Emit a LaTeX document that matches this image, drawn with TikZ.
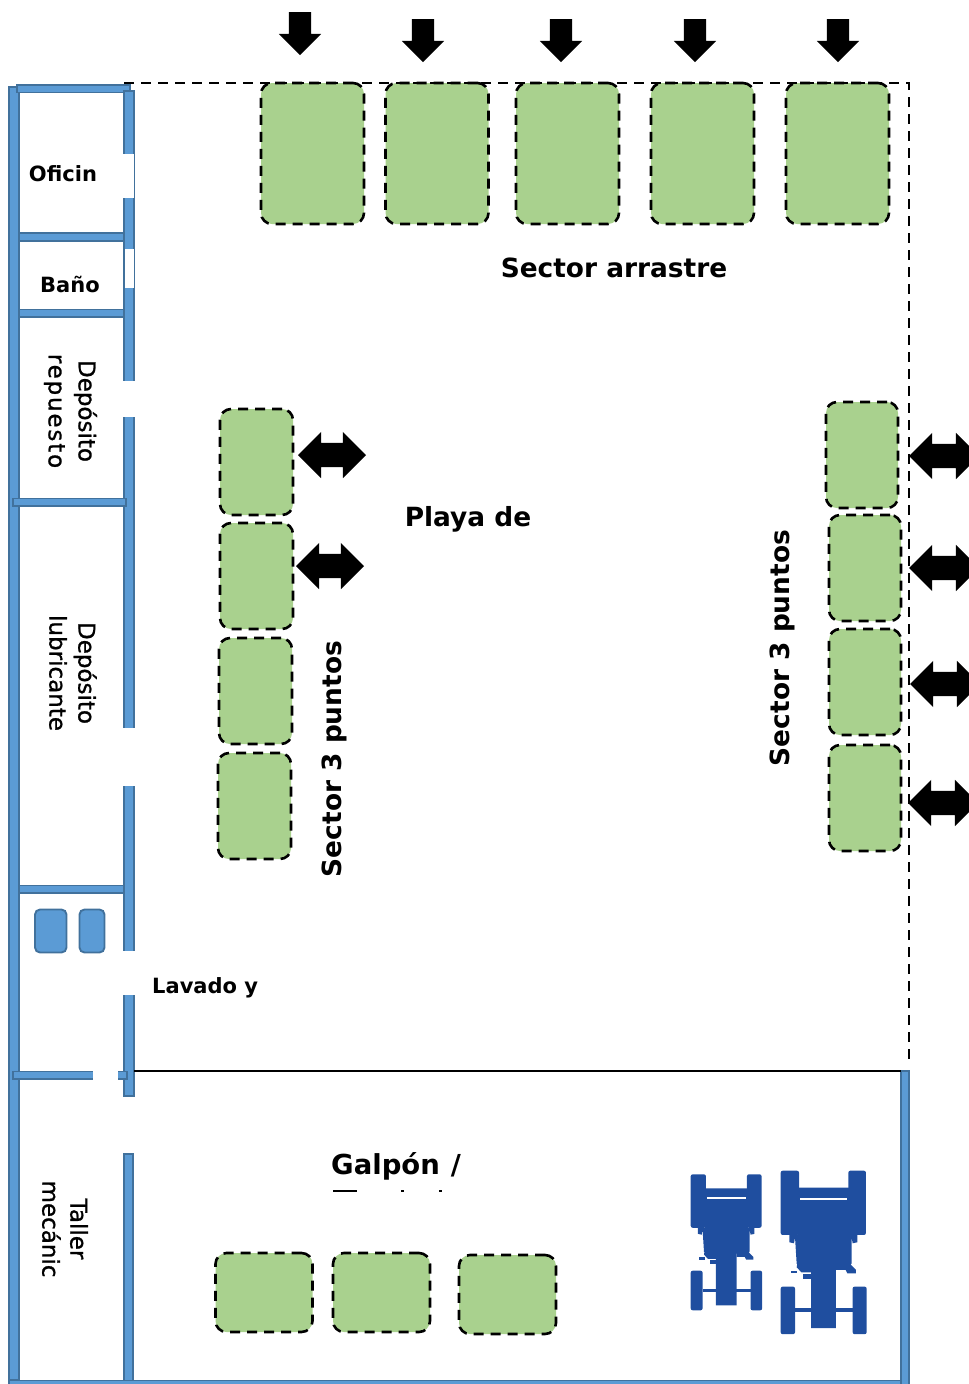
\documentclass[tikz,border=0pt]{standalone}
\usepackage{fontspec}
\setmainfont{DejaVu Sans}
\usetikzlibrary{shapes.arrows}
\definecolor{verde}{HTML}{A9D18E}
\definecolor{pared}{HTML}{5B9BD5}
\definecolor{borde}{HTML}{41719C}
\definecolor{tractor}{HTML}{1F4E9F}
\tikzset{
  lote/.style={draw=black,fill=verde,line width=2.6pt,rounded corners=11pt,inner sep=0pt,dash pattern=on 10pt off 7pt},
  muro/.style={draw=borde,fill=pared,line width=1.9pt},
  hueco/.style={fill=white,draw=none},
  flecha/.style={single arrow,fill=black,rotate=-90,inner xsep=0pt,inner ysep=11pt,minimum height=43pt,minimum width=42pt,single arrow head extend=10pt},
  dflecha/.style={double arrow,fill=black,inner xsep=0pt,inner ysep=12pt,minimum height=70pt,minimum width=46pt,double arrow head extend=11pt},
  rotulo/.style={font=\bfseries\fontsize{#1}{#1}\selectfont,inner sep=0pt,align=center},
  rotulo/.default=21,
  vertical/.style={font=\fontsize{23}{23}\selectfont\addfontfeature{FakeBold=1},inner sep=0pt,align=center,rotate=-90}
}
\begin{document}
\begin{tikzpicture}[x=1pt,y=-1pt]
\clip (0,0) rectangle (969,1384);

% lotes
\foreach \i/\cx in {1/312.5,2/437,3/567.5,4/702.5,5/837.5}
{
\node[lote,minimum width=103pt,minimum height=141pt] (arrastre\i) at (\cx,153.5) {};
}
\foreach \i/\cx/\cy in {1/256.5/462,2/256.5/576,3/255.5/691,4/254.5/806}
{
\node[lote,minimum width=73pt,minimum height=106pt] (izq\i) at (\cx,\cy) {};
}
\foreach \i/\cx/\cy in {1/862/455,2/865/568,3/865/682,4/865/798}
{
\node[lote,minimum width=72pt,minimum height=106pt] (der\i) at (\cx,\cy) {};
}
\foreach \i/\cx/\cy in {1/264/1292.5,2/381.5/1292.5,3/507.5/1294.5}
{
\node[lote,minimum width=97pt,minimum height=79pt] (galpon\i) at (\cx,\cy) {};
}

% limite punteado
\coordinate (p0) at (124,83);
\coordinate (p1) at (909,83);
\coordinate (p2) at (909,1066);
\draw[line width=2.6pt,dash pattern=on 10pt off 7pt] (p0)--(p1)--(p2);

% flechas
\foreach \i/\cx/\cy in {1/300/28,2/423/35,3/561/35,4/695/35,5/838/35}
{
\node[flecha] (baja\i) at (\cx,\cy) {};
}
\foreach \i/\cx/\cy in {1/332/455,2/330/566}
{
\node[dflecha,minimum height=68pt] (ida\i) at (\cx,\cy) {};
}
\foreach \i/\cx/\cy in {1/944/456,2/944/568,3/945/684,4/943/803}
{
\node[dflecha] (vuelta\i) at (\cx,\cy) {};
}

% paredes
\draw[muro] (9,87) rectangle (19,1380);
\draw[muro] (17,85) rectangle (130,92.5);
\draw[muro] (124,91) rectangle (134,1096);
\draw[muro] (124,1154) rectangle (133,1384);
\draw[muro] (19,233) rectangle (124,241);
\draw[muro] (19,309.5) rectangle (124,317);
\draw[muro] (13,498.5) rectangle (126,506);
\draw[muro] (19,885.5) rectangle (124,893);
\draw[muro] (13,1071.5) rectangle (127,1079);
\draw[muro] (9,1380.5) rectangle (909,1386);
\draw[muro] (901,1071) rectangle (909,1386);
\fill[hueco] (123,154) rectangle (133.5,198);
\fill[hueco] (125,249) rectangle (133.5,288);
\fill[hueco] (122,381) rectangle (135.5,417);
\fill[hueco] (122,728) rectangle (135.5,786);
\fill[hueco] (122,951) rectangle (135.5,995);
\fill[hueco] (93,1069) rectangle (118,1081);
\draw[line width=2.8pt] (134,1071)--(901,1071);

% tanques
\draw[muro,rounded corners=5pt] (35,909.5) rectangle (66.5,952.5);
\draw[muro,rounded corners=5pt] (79.5,909.5) rectangle (104.5,952.5);

% tractores
\foreach \tx/\ty/\ts in {690.7/1174.3/0.277,780.7/1170.7/0.333}
{
\begin{scope}[shift={(\tx,\ty)},x=\ts pt,y=-\ts pt]
\fill[tractor,rounded corners=2pt] (0,0) rectangle (55,193);
\fill[tractor,rounded corners=2pt] (203,0) rectangle (256,193);
\fill[tractor] (50,51)--(208,51)--(208,193)--(230,193)--(230,215)--(216,218)--(213,200)--(213,278)
  --(208,286)--(166,286)--(166,473)--(91,473)--(91,310)--(91,286)--(48,280)--(43,200)--(40,218)--(26,215)--(26,193)--(50,193)--cycle;
\fill[tractor] (50,278)--(91,278)--(91,305)--(62,305)--(48,290)--cycle;
\fill[tractor] (30,300) rectangle (50,308);
\fill[tractor] (68,310) rectangle (91,325);
\fill[tractor] (166,280)--(208,280)--(226,298)--(226,308)--(200,308)--(195,298)--(166,298)--cycle;
\fill[tractor,rounded corners=2pt] (0,348) rectangle (43,491);
\fill[tractor,rounded corners=2pt] (216,348) rectangle (258,491);
\fill[tractor] (43,413) rectangle (216,425);
\draw[white,line width=2pt] (58,84)--(198,84);
\end{scope}
}

% rotulos
\node[rotulo] (oficina) at (63,174) {Oficin};
\node[rotulo] (bano) at (70,284) {Baño};
\node[vertical] (repuesto) at (70.5,411) {Depósito\\[7pt]\addfontfeature{LetterSpace=8}repuesto};
\node[vertical] (lubricante) at (73,673) {Depósito\\[6pt]lubricante};
\node[vertical] (taller) at (65,1229) {Taller\\[5pt]mecánic};
\node[rotulo,anchor=west] (lavado) at (152,988) {Lavado y};
\node[rotulo=26.4] (arrastre) at (614,268) {Sector arrastre};
\node[rotulo=26.4] (playa) at (468,519) {Playa de};
\node[rotulo=26.4,rotate=90] (tresizq) at (334,759) {Sector 3 puntos};
\node[rotulo=26.4,rotate=90] (tresder) at (782,648) {Sector 3 puntos};
\node[rotulo=27.5,anchor=west] (galpon) at (331,1166) {Galpón\hspace{11pt}/};
\fill (333,1189.5) rectangle (357,1191.5);
\fill (401,1189.5) rectangle (404,1191.5);
\fill (439,1189.5) rectangle (442,1191.5);
\end{tikzpicture}
\end{document}
